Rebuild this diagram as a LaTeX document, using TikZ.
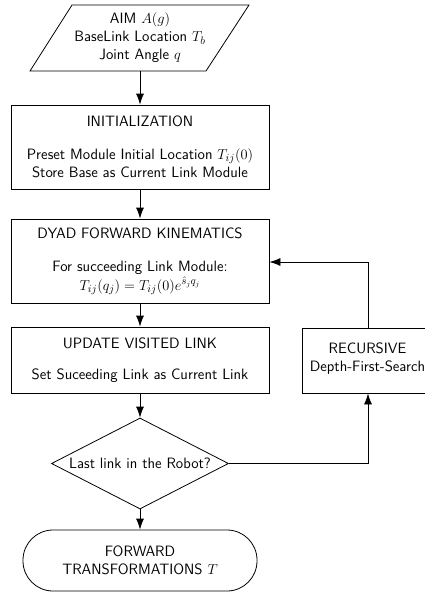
\documentclass[tikz,border=0pt]{standalone}
\usetikzlibrary{shapes.geometric,arrows.meta}
\begin{document}
\begin{tikzpicture}[x=1pt,y=-1pt,
  font=\sffamily\fontsize{15}{18}\selectfont,
  line width=0.8pt,
  arr/.style={-{Latex[length=11pt,width=8pt]}},
  procbox/.style={draw,rectangle,align=center,minimum width=258pt,inner sep=0pt},
  decbox/.style={draw,diamond,aspect=1.95,inner sep=0pt,minimum width=177pt,minimum height=91pt},
  termbox/.style={draw,rectangle,rounded corners=30pt,align=center,minimum width=234pt,minimum height=61pt,inner sep=0pt},
  txt/.style={align=center,inner sep=0pt}]
\useasboundingbox (0,0) rectangle (425,592);
\clip (0,0) rectangle (425,592);
% input parallelogram
\draw (72,5) -- (249,5) -- (206,71) -- (30,71) -- cycle;
\node[txt,minimum height=66pt] (in) at (140,38) {AIM $A(g)$\\BaseLink Location $T_b$\\Joint Angle $q$};
\node[procbox,minimum height=84pt] (init) at (140,147) {INITIALIZATION\\[15pt]Preset Module Initial Location $T_{ij}(0)$\\Store Base as Current Link Module};
\node[procbox,minimum height=84pt] (dyad) at (140,261) {DYAD FORWARD KINEMATICS\\[15pt]For succeeding Link Module:\\[1pt]$T_{ij}(q_j)=T_{ij}(0)e^{\hat{s}_jq_j}$};
\node[procbox,minimum height=66pt] (upd) at (140,360) {UPDATE VISITED LINK\\[13pt]Set Suceeding Link as Current Link};
\node[draw,rectangle,minimum width=150pt,minimum height=65pt,inner sep=0pt] (rec) at (377,360.5) {};
\node[txt] (rectext) at (367.5,359) {RECURSIVE\\Depth-First-Search};
\node[decbox] (dec) at (140,463.5) {Last link in the Robot?};
\node[termbox] (term) at (140,560.5) {FORWARD\\TRANSFORMATIONS $T$};
\coordinate (c1) at (368,262);
\coordinate (c2) at (368,463.5);
\draw[arr] (in.south) -- (init.north);
\draw[arr] (init.south) -- (dyad.north);
\draw[arr] (dyad.south) -- (upd.north);
\draw[arr] (upd.south) -- (dec.north);
\draw[arr] (dec.south) -- (term.north);
\draw[arr] (dec.east) -- (c2) -- (c2 |- rec.south);
\draw[arr] (c1 |- rec.north) -- (c1) -- (c1 -| dyad.east);
\end{tikzpicture}
\end{document}
